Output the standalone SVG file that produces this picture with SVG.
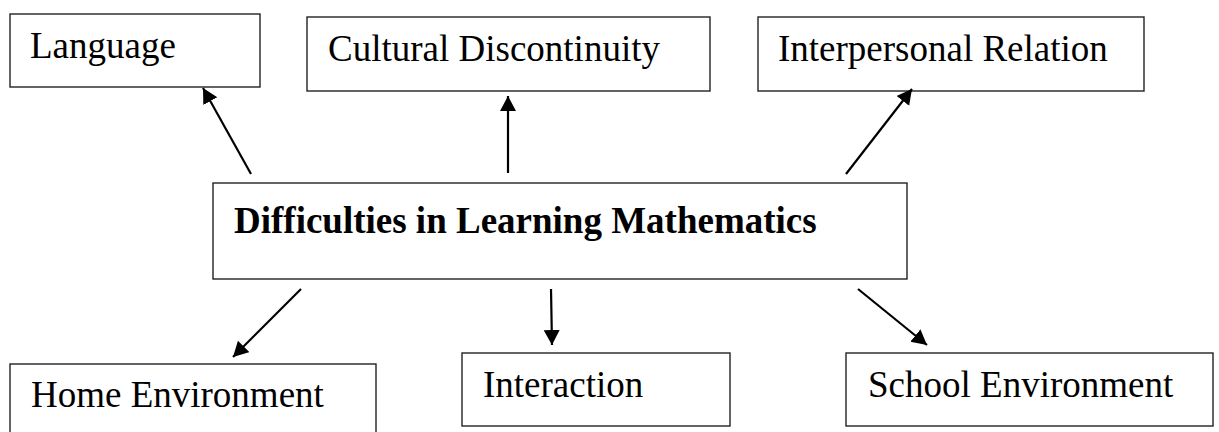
<svg xmlns="http://www.w3.org/2000/svg" width="1219" height="432" viewBox="0 0 1219 432">
<style>
.box{fill:#fff;stroke:#222;stroke-width:1.4}
.t{font-family:"Liberation Serif","Times New Roman",serif;font-size:37px;fill:#000}
.b{font-weight:bold}
.c{stroke:#000;stroke-width:2.2;fill:none}
</style>
<defs>
<marker id="ah" markerUnits="userSpaceOnUse" markerWidth="18" markerHeight="18" refX="15" refY="8" orient="auto">
<path d="M0,0 L15,8 L0,16 Z" fill="#000"/>
</marker>
</defs>
<rect width="1219" height="432" fill="#fff"/>
<g id="center">
<rect class="box" x="213" y="183" width="694" height="96"/>
<text class="t b" x="234" y="233">Difficulties in Learning Mathematics</text>
</g>
<g id="language">
<rect class="box" x="10" y="14" width="250" height="73"/>
<text class="t" x="30" y="58">Language</text>
</g>
<g id="cultural">
<rect class="box" x="307" y="17" width="403" height="74"/>
<text class="t" x="328" y="61">Cultural Discontinuity</text>
</g>
<g id="interpersonal">
<rect class="box" x="758" y="17" width="386" height="74"/>
<text class="t" x="778" y="61">Interpersonal Relation</text>
</g>
<g id="home">
<rect class="box" x="10" y="364" width="366" height="80"/>
<text class="t" x="31" y="407">Home Environment</text>
</g>
<g id="interaction">
<rect class="box" x="462" y="353" width="268" height="73"/>
<text class="t" x="483" y="397">Interaction</text>
</g>
<g id="school">
<rect class="box" x="846" y="353" width="367" height="73"/>
<text class="t" x="868" y="397">School Environment</text>
</g>
<g id="connectors">
<line class="c" x1="251" y1="174" x2="203" y2="88" marker-end="url(#ah)"/>
<line class="c" x1="508" y1="173" x2="508" y2="96" marker-end="url(#ah)"/>
<line class="c" x1="846" y1="174" x2="912" y2="89" marker-end="url(#ah)"/>
<line class="c" x1="301" y1="289" x2="233" y2="357" marker-end="url(#ah)"/>
<line class="c" x1="551" y1="289" x2="552" y2="345" marker-end="url(#ah)"/>
<line class="c" x1="858" y1="289" x2="927" y2="345" marker-end="url(#ah)"/>
</g>
</svg>
